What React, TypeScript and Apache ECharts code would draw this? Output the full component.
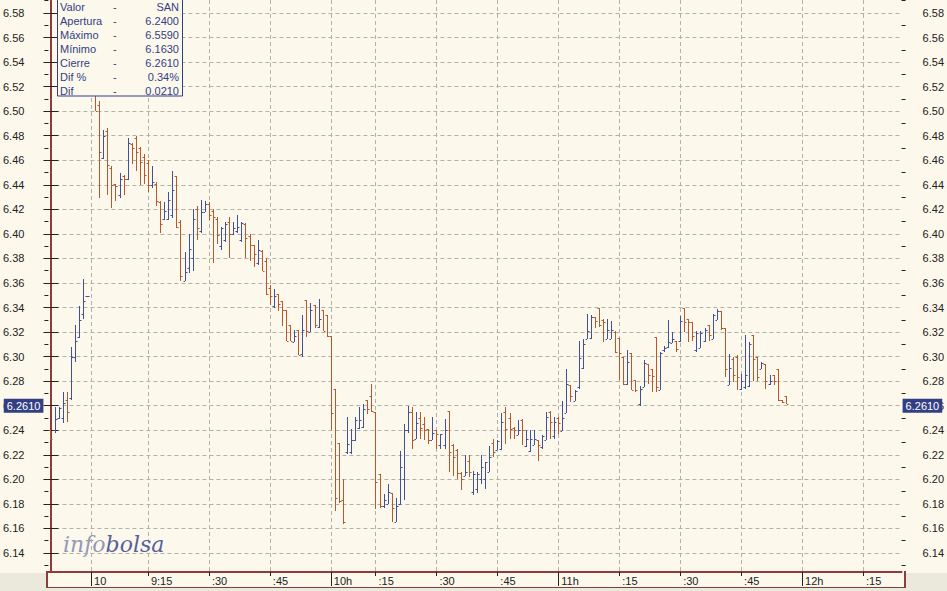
import React, { useEffect, useRef } from 'react';
import * as echarts from 'echarts';

// ---- OHLC data, one bar per minute slot (index = slot on the x axis) ----
const opens = [
  6.240, 6.240, 6.250, 6.250, 6.265, 6.266, 6.300, 6.316, 6.335, 6.349,
  6.545, 6.525, 6.505, 6.462, 6.484, 6.454, 6.441, 6.432, 6.447, 6.445,
  6.473, 6.478, 6.470, 6.463, 6.458, 6.440, 6.441, 6.426, 6.412, 6.412,
  6.415, 6.447, 6.410, 6.362, 6.372, 6.380, 6.420, 6.402, 6.418, 6.424,
  6.419, 6.412, 6.390, 6.395, 6.410, 6.400, 6.402, 6.395, 6.408, 6.398,
  6.391, 6.376, 6.386, 6.378, 6.356, 6.341, 6.351, 6.345, 6.338, 6.326,
  6.312, 6.322, 6.302, 6.346, 6.320, 6.342, 6.324, 6.338, 6.334, 6.317,
  6.274, 6.230, 6.183, 6.222, 6.222, 6.232, 6.242, 6.243, 6.265, 6.268,
  6.255, 6.204, 6.178, 6.180, 6.189, 6.165, 6.180, 6.200, 6.240, 6.255,
  6.233, 6.250, 6.245, 6.241, 6.232, 6.240, 6.228, 6.228, 6.256, 6.228,
  6.224, 6.205, 6.203, 6.215, 6.190, 6.192, 6.200, 6.200, 6.206, 6.230,
  6.224, 6.225, 6.255, 6.250, 6.242, 6.236, 6.248, 6.227, 6.223, 6.228,
  6.232, 6.226, 6.232, 6.255, 6.235, 6.250, 6.239, 6.254, 6.277, 6.264,
  6.275, 6.291, 6.314, 6.315, 6.332, 6.340, 6.330, 6.314, 6.314, 6.320,
  6.315, 6.300, 6.278, 6.303, 6.281, 6.261, 6.275, 6.294, 6.290, 6.316,
  6.273, 6.305, 6.308, 6.311, 6.313, 6.313, 6.340, 6.331, 6.328, 6.305,
  6.307, 6.313, 6.326, 6.314, 6.330, 6.337, 6.323, 6.277, 6.298, 6.300,
  6.274, 6.275, 6.276, 6.318, 6.300, 6.290, 6.294, 6.278, 6.285, 6.290,
  6.265, 6.268
];
const highs = [
  6.240, 6.259, 6.259, 6.271, 6.271, 6.308, 6.326, 6.341, 6.363, 6.349,
  6.559, 6.530, 6.508, 6.485, 6.486, 6.455, 6.441, 6.450, 6.448, 6.478,
  6.474, 6.480, 6.471, 6.465, 6.460, 6.455, 6.442, 6.427, 6.426, 6.434,
  6.451, 6.447, 6.411, 6.385, 6.400, 6.420, 6.423, 6.428, 6.427, 6.426,
  6.420, 6.414, 6.406, 6.410, 6.414, 6.410, 6.415, 6.410, 6.409, 6.400,
  6.391, 6.395, 6.387, 6.380, 6.358, 6.355, 6.351, 6.345, 6.338, 6.326,
  6.322, 6.322, 6.334, 6.346, 6.344, 6.342, 6.347, 6.338, 6.334, 6.317,
  6.274, 6.230, 6.200, 6.251, 6.241, 6.251, 6.259, 6.261, 6.265, 6.278,
  6.255, 6.204, 6.188, 6.196, 6.189, 6.185, 6.223, 6.245, 6.260, 6.259,
  6.255, 6.255, 6.251, 6.241, 6.251, 6.240, 6.237, 6.249, 6.256, 6.229,
  6.225, 6.206, 6.220, 6.220, 6.207, 6.206, 6.220, 6.214, 6.227, 6.233,
  6.232, 6.254, 6.259, 6.254, 6.243, 6.248, 6.249, 6.240, 6.240, 6.240,
  6.232, 6.236, 6.255, 6.256, 6.251, 6.251, 6.264, 6.290, 6.277, 6.273,
  6.313, 6.314, 6.335, 6.334, 6.332, 6.340, 6.331, 6.331, 6.329, 6.321,
  6.315, 6.300, 6.305, 6.303, 6.281, 6.276, 6.297, 6.294, 6.290, 6.316,
  6.304, 6.309, 6.330, 6.320, 6.313, 6.333, 6.340, 6.331, 6.328, 6.321,
  6.321, 6.323, 6.326, 6.335, 6.339, 6.337, 6.323, 6.302, 6.300, 6.301,
  6.286, 6.318, 6.312, 6.318, 6.300, 6.296, 6.294, 6.285, 6.285, 6.290,
  6.265, 6.268
];
const lows = [
  6.232, 6.238, 6.249, 6.246, 6.247, 6.265, 6.296, 6.315, 6.331, 6.349,
  6.515, 6.500, 6.429, 6.461, 6.432, 6.421, 6.427, 6.429, 6.432, 6.444,
  6.457, 6.451, 6.440, 6.441, 6.434, 6.437, 6.423, 6.401, 6.411, 6.411,
  6.413, 6.405, 6.362, 6.362, 6.368, 6.370, 6.395, 6.401, 6.418, 6.411,
  6.376, 6.392, 6.387, 6.393, 6.380, 6.399, 6.401, 6.393, 6.380, 6.378,
  6.373, 6.375, 6.370, 6.350, 6.342, 6.340, 6.337, 6.325, 6.313, 6.313,
  6.312, 6.301, 6.300, 6.316, 6.320, 6.323, 6.323, 6.321, 6.316, 6.240,
  6.174, 6.181, 6.164, 6.221, 6.221, 6.231, 6.241, 6.242, 6.253, 6.255,
  6.176, 6.177, 6.177, 6.180, 6.165, 6.165, 6.179, 6.183, 6.238, 6.225,
  6.233, 6.233, 6.232, 6.229, 6.232, 6.225, 6.225, 6.225, 6.206, 6.203,
  6.200, 6.191, 6.203, 6.202, 6.187, 6.189, 6.196, 6.192, 6.206, 6.218,
  6.224, 6.224, 6.229, 6.233, 6.233, 6.236, 6.228, 6.226, 6.222, 6.228,
  6.215, 6.225, 6.232, 6.233, 6.233, 6.237, 6.239, 6.254, 6.263, 6.264,
  6.274, 6.290, 6.314, 6.314, 6.323, 6.324, 6.312, 6.314, 6.314, 6.303,
  6.281, 6.277, 6.277, 6.273, 6.271, 6.260, 6.275, 6.278, 6.271, 6.271,
  6.273, 6.304, 6.307, 6.311, 6.304, 6.312, 6.320, 6.312, 6.313, 6.304,
  6.307, 6.312, 6.313, 6.314, 6.330, 6.322, 6.283, 6.277, 6.279, 6.273,
  6.273, 6.274, 6.275, 6.280, 6.280, 6.290, 6.274, 6.277, 6.277, 6.264,
  6.262, 6.261
];
const closes = [
  6.233, 6.249, 6.258, 6.262, 6.255, 6.300, 6.313, 6.330, 6.345, 6.349,
  6.525, 6.500, 6.467, 6.480, 6.456, 6.440, 6.439, 6.445, 6.445, 6.474,
  6.470, 6.467, 6.459, 6.448, 6.440, 6.442, 6.427, 6.408, 6.419, 6.428,
  6.436, 6.406, 6.366, 6.369, 6.388, 6.412, 6.405, 6.418, 6.424, 6.415,
  6.414, 6.399, 6.405, 6.408, 6.400, 6.405, 6.406, 6.409, 6.397, 6.391,
  6.384, 6.387, 6.370, 6.351, 6.349, 6.349, 6.343, 6.338, 6.313, 6.313,
  6.317, 6.301, 6.322, 6.321, 6.338, 6.326, 6.331, 6.321, 6.317, 6.254,
  6.185, 6.182, 6.165, 6.229, 6.232, 6.248, 6.248, 6.257, 6.257, 6.256,
  6.198, 6.178, 6.183, 6.190, 6.177, 6.178, 6.210, 6.240, 6.255, 6.232,
  6.246, 6.242, 6.240, 6.232, 6.238, 6.237, 6.237, 6.240, 6.222, 6.218,
  6.205, 6.200, 6.206, 6.206, 6.204, 6.204, 6.210, 6.214, 6.218, 6.222,
  6.231, 6.247, 6.241, 6.241, 6.240, 6.240, 6.240, 6.233, 6.233, 6.233,
  6.228, 6.235, 6.251, 6.247, 6.247, 6.246, 6.250, 6.278, 6.268, 6.272,
  6.299, 6.310, 6.321, 6.332, 6.329, 6.326, 6.328, 6.322, 6.322, 6.304,
  6.303, 6.278, 6.296, 6.273, 6.273, 6.274, 6.295, 6.285, 6.284, 6.275,
  6.303, 6.307, 6.312, 6.314, 6.306, 6.329, 6.328, 6.328, 6.317, 6.319,
  6.319, 6.322, 6.318, 6.334, 6.337, 6.323, 6.290, 6.291, 6.285, 6.283,
  6.280, 6.285, 6.310, 6.298, 6.283, 6.295, 6.280, 6.280, 6.280, 6.265,
  6.263, 6.261
];

const slotCount = 210;
const timeTickIndex = [10, 24, 39, 54, 69, 80, 95, 110, 125, 140, 155, 170, 185, 200];
const timeTickLabels = ['10', '9:15', ':30', ':45', '10h', ':15', ':30', ':45', '11h', ':15', ':30', ':45', '12h', ':15'];
const hourTickIndex = [10, 69, 125, 185];

const priceTicks = [
  6.14, 6.16, 6.18, 6.20, 6.22, 6.24, 6.26, 6.28, 6.30, 6.32, 6.34, 6.36,
  6.38, 6.40, 6.42, 6.44, 6.46, 6.48, 6.50, 6.52, 6.54, 6.56, 6.58
];
const minorPriceTicks = [
  6.13, 6.15, 6.17, 6.19, 6.21, 6.23, 6.25, 6.27, 6.29, 6.31, 6.33, 6.35,
  6.37, 6.39, 6.41, 6.43, 6.45, 6.47, 6.49, 6.51, 6.53, 6.55, 6.57, 6.59
];
const lastPrice = 6.261;
const lastIndex = closes.length - 1;

const legendLabels = ['Valor', 'Apertura', 'Máximo', 'Mínimo', 'Cierre', 'Dif %', 'Dif'];
const legendValues = ['SAN', '6.2400', '6.5590', '6.1630', '6.2610', '0.34%', '0.0210'];

const UP = '#40509a';
const DOWN = '#b8562c';
const AXIS = '#8e3b3b';
const BG = '#fdf8ec';
const STRIP = '#ebe8dc';
const GRID = '#b4b1a8';
const NAVY = '#323f85';
const FONT = '"Liberation Sans", Arial, sans-serif';

export default function App() {
  const ref = useRef<HTMLDivElement | null>(null);

  useEffect(() => {
    document.body.style.margin = '0';
    const el = ref.current;
    if (!el) return;
    const chart = echarts.init(el, undefined, { renderer: 'svg' });

    const rows = opens.map((o, i) => [i, o, highs[i], lows[i], closes[i]]);
    const yMin = 6.1245;
    const yMax = 6.5906;

    const yCommon = {
      type: 'value',
      min: yMin,
      max: yMax,
      scale: true,
    };

    const legendChildren: any[] = [
      {
        type: 'rect',
        shape: { x: 57.5, y: -1, width: 125, height: 97 },
        style: { fill: BG, stroke: NAVY, lineWidth: 1 },
        z: 100,
      },
    ];
    legendLabels.forEach((lab, k) => {
      const y = 7 + k * 14;
      legendChildren.push({
        type: 'text', x: 60, y, z: 101,
        style: { text: lab, fill: NAVY, font: `11px ${FONT}`, textVerticalAlign: 'middle' },
      });
      legendChildren.push({
        type: 'text', x: 113, y, z: 101,
        style: { text: '-', fill: NAVY, font: `11px ${FONT}`, textVerticalAlign: 'middle' },
      });
      legendChildren.push({
        type: 'text', x: 179, y, z: 101,
        style: { text: legendValues[k], fill: NAVY, font: `11px ${FONT}`, textAlign: 'right', textVerticalAlign: 'middle' },
      });
    });

    const priceTag = (position: string, distance: number) => ({
      show: true,
      position,
      distance,
      formatter: lastPrice.toFixed(4),
      color: '#ffffff',
      backgroundColor: NAVY,
      padding: [2, 3, 1, 3],
      fontFamily: FONT,
      fontSize: 11,
    });

    const option: any = {
      animation: false,
      backgroundColor: BG,
      grid: { left: 47, right: 42, top: 0, bottom: 19, containLabel: false },
      xAxis: [
        {
          type: 'value',
          min: -0.5,
          max: slotCount - 0.5,
          position: 'bottom',
          axisLine: { show: true, lineStyle: { color: AXIS, width: 2 } },
          axisTick: { show: true, customValues: timeTickIndex, length: 4, lineStyle: { color: '#222' } },
          axisLabel: {
            show: true,
            customValues: timeTickIndex,
            formatter: (v: number) => {
              const k = timeTickIndex.indexOf(Math.round(v));
              return k >= 0 ? timeTickLabels[k] : '';
            },
            align: 'left',
            margin: 3,
            padding: [0, 0, 0, 3],
            color: '#222',
            fontFamily: FONT,
            fontSize: 11,
          },
          splitLine: { show: true, lineStyle: { color: GRID, type: [4, 3], width: 1 } },
        },
        {
          type: 'value',
          min: -0.5,
          max: slotCount - 0.5,
          position: 'bottom',
          axisLine: { show: false },
          axisTick: { show: true, customValues: hourTickIndex, length: 14, lineStyle: { color: '#222' } },
          axisLabel: { show: false },
          splitLine: { show: false },
        },
      ],
      yAxis: [
        {
          ...yCommon,
          position: 'left',
          axisLine: { show: true, lineStyle: { color: AXIS, width: 2 } },
          axisTick: { show: true, customValues: priceTicks, length: 7, lineStyle: { color: '#222' } },
          axisLabel: {
            customValues: priceTicks,
            formatter: (v: number) => v.toFixed(2),
            margin: 24,
            color: '#222',
            fontFamily: FONT,
            fontSize: 11,
          },
          splitLine: { show: true, lineStyle: { color: GRID, type: [4, 3], width: 1 } },
        },
        {
          ...yCommon,
          position: 'right',
          axisLine: { show: true, lineStyle: { color: AXIS, width: 2 } },
          axisTick: { show: true, customValues: priceTicks, length: 8, lineStyle: { color: '#222' } },
          axisLabel: {
            customValues: priceTicks,
            formatter: (v: number) => v.toFixed(2),
            margin: 21,
            color: '#222',
            fontFamily: FONT,
            fontSize: 11,
          },
          splitLine: { show: false },
        },
        {
          ...yCommon,
          position: 'left',
          axisLine: { show: false },
          axisTick: { show: true, customValues: minorPriceTicks, length: 4, lineStyle: { color: '#222' } },
          axisLabel: { show: false },
          splitLine: { show: false },
        },
        {
          ...yCommon,
          position: 'right',
          axisLine: { show: false },
          axisTick: { show: true, customValues: minorPriceTicks, length: 4, lineStyle: { color: '#222' } },
          axisLabel: { show: false },
          splitLine: { show: false },
        },
      ],
      series: [
        {
          type: 'custom',
          xAxisIndex: 0,
          yAxisIndex: 0,
          data: rows,
          encode: { x: 0, y: [1, 2, 3, 4] },
          clip: true,
          renderItem: (params: any, api: any) => {
            const i = api.value(0);
            const o = api.value(1);
            const h = api.value(2);
            const l = api.value(3);
            const c = api.value(4);
            const pH = api.coord([i, h]);
            const pL = api.coord([i, l]);
            const pO = api.coord([i, o]);
            const pC = api.coord([i, c]);
            const x = Math.round(pH[0]) + 0.5;
            const color = c >= o ? UP : DOWN;
            const yH = Math.round(pH[1]);
            const yL = Math.max(Math.round(pL[1]), yH + 1);
            const yO = Math.round(pO[1]) + 0.5;
            const yC = Math.round(pC[1]) + 0.5;
            const st = { stroke: color, lineWidth: 1 };
            return {
              type: 'group',
              children: [
                { type: 'line', shape: { x1: x, y1: yH, x2: x, y2: yL }, style: st },
                { type: 'line', shape: { x1: x - 2, y1: yO, x2: x - 0.5, y2: yO }, style: st },
                { type: 'line', shape: { x1: x + 0.5, y1: yC, x2: x + 2, y2: yC }, style: st },
              ],
            };
          },
          z: 3,
        },
        {
          type: 'line',
          xAxisIndex: 0,
          yAxisIndex: 0,
          data: [[lastIndex, lastPrice]],
          symbol: 'none',
          silent: true,
          lineStyle: { width: 0, color: 'transparent' },
          markLine: {
            silent: true,
            symbol: 'none',
            lineStyle: { width: 0, color: 'transparent', type: 'solid' },
            data: [
              { yAxis: lastPrice, label: priceTag('start', 5) },
              { yAxis: lastPrice, label: priceTag('end', 1) },
            ],
          },
          z: 5,
        },
      ],
      graphic: [
        // grey strip outside the time-label box
        { type: 'rect', z: -1, shape: { x: 0, y: 573, width: 46, height: 18 }, style: { fill: STRIP } },
        { type: 'rect', z: -1, shape: { x: 906, y: 573, width: 41, height: 18 }, style: { fill: STRIP } },
        { type: 'rect', z: -1, shape: { x: 46, y: 588, width: 861, height: 3 }, style: { fill: STRIP } },
        { type: 'line', z: 1, shape: { x1: 47, y1: 571, x2: 47, y2: 588 }, style: { stroke: AXIS, lineWidth: 2 } },
        { type: 'line', z: 1, shape: { x1: 905, y1: 571, x2: 905, y2: 588 }, style: { stroke: AXIS, lineWidth: 2 } },
        { type: 'line', z: 1, shape: { x1: 46, y1: 587.5, x2: 906, y2: 587.5 }, style: { stroke: AXIS, lineWidth: 1 } },
        {
          type: 'group',
          z: 100,
          children: legendChildren,
        },
        {
          type: 'text',
          x: 63,
          y: 544,
          z: 50,
          style: {
            text: '{a|info}{b|bolsa}',
            textVerticalAlign: 'middle',
            rich: {
              a: { fontFamily: '"DejaVu Serif", "Liberation Serif", serif', fontStyle: 'italic', fontSize: 22, fill: '#9398b8', color: '#9398b8' },
              b: { fontFamily: '"DejaVu Serif", "Liberation Serif", serif', fontStyle: 'italic', fontSize: 22, fill: '#56619a', color: '#56619a' },
            },
          },
        },
      ],
    };

    chart.setOption(option);
    return () => {
      chart.dispose();
    };
  }, []);

  return (
    <div
      ref={ref}
      style={{ position: 'fixed', left: 0, top: 0, width: 947, height: 591 }}
    />
  );
}
